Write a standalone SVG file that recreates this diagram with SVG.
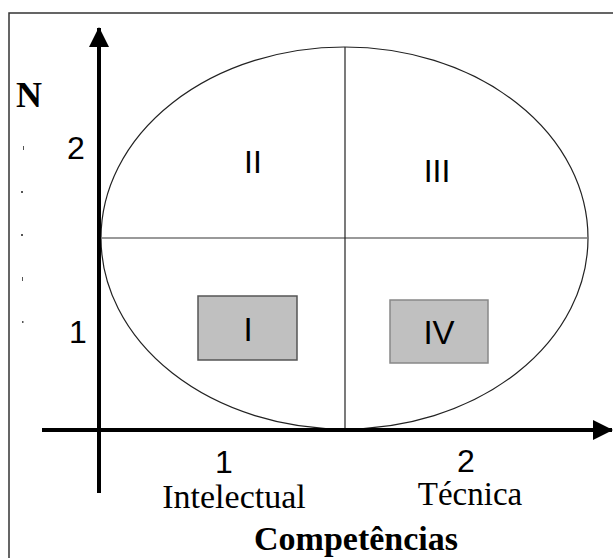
<svg xmlns="http://www.w3.org/2000/svg" width="613" height="558" viewBox="0 0 613 558">
<style>
.sans{font-family:"Liberation Sans",Arial,sans-serif;fill:#000}
.serif{font-family:"Liberation Serif","Times New Roman",serif;fill:#000}
.axis{stroke:#000;stroke-width:4;fill:none}
.box{fill:#c0c0c0}
</style>
<defs>
<marker id="arr" markerUnits="userSpaceOnUse" markerWidth="20" markerHeight="20" refX="19" refY="10" orient="auto">
<path d="M0,0 L20,10 L0,20 Z" fill="#000"/>
</marker>
</defs>
<rect width="613" height="558" fill="#fff"/>
<rect x="9" y="13" width="620" height="560" fill="none" stroke="#333" stroke-width="1.5"/>
<g id="ellipse">
<ellipse cx="344.5" cy="238" rx="243.5" ry="191" fill="none" stroke="#222" stroke-width="1.2"/>
<line x1="101" y1="238" x2="588" y2="238" stroke="#777" stroke-width="1.6"/>
<line x1="345" y1="47" x2="345" y2="430" stroke="#222" stroke-width="1.2"/>
</g>
<g id="connectors">
<line class="axis" x1="99" y1="493" x2="99" y2="28" marker-end="url(#arr)"/>
<line class="axis" x1="42" y1="430" x2="612" y2="430" marker-end="url(#arr)"/>
</g>
<g id="marks" fill="#555">
<rect x="23" y="146" width="1" height="4"/>
<rect x="21" y="191" width="2" height="2"/>
<rect x="21" y="234" width="2" height="2"/>
<rect x="22" y="277" width="1" height="4"/>
<rect x="22" y="321" width="1.5" height="2"/>
</g>
<g id="quadrant-II"><text class="sans" x="253" y="173" font-size="32" text-anchor="middle">II</text></g>
<g id="quadrant-III"><text class="sans" x="437" y="182" font-size="32" text-anchor="middle">III</text></g>
<g id="quadrant-I">
<rect class="box" x="198" y="296" width="99" height="64" stroke="#555" stroke-width="1.5"/>
<text class="sans" x="248" y="341" font-size="33" text-anchor="middle">I</text>
</g>
<g id="quadrant-IV">
<rect class="box" x="390" y="300" width="98" height="63" stroke="#888" stroke-width="1.5"/>
<text class="sans" x="439" y="344" font-size="33" text-anchor="middle">IV</text>
</g>
<g id="y-labels">
<text class="serif" x="16" y="107" font-size="36" font-weight="bold">N</text>
<text class="sans" x="76" y="159" font-size="32" text-anchor="middle">2</text>
<text class="sans" x="78" y="343" font-size="32" text-anchor="middle">1</text>
</g>
<g id="x-labels">
<text class="sans" x="224" y="473" font-size="32" text-anchor="middle">1</text>
<text class="sans" x="466" y="472" font-size="32" text-anchor="middle">2</text>
<text class="serif" x="234" y="508" font-size="34" text-anchor="middle">Intelectual</text>
<text class="serif" x="470" y="505" font-size="33" text-anchor="middle">Técnica</text>
<text class="serif" x="356" y="550" font-size="34" font-weight="bold" text-anchor="middle">Competências</text>
</g>
</svg>
